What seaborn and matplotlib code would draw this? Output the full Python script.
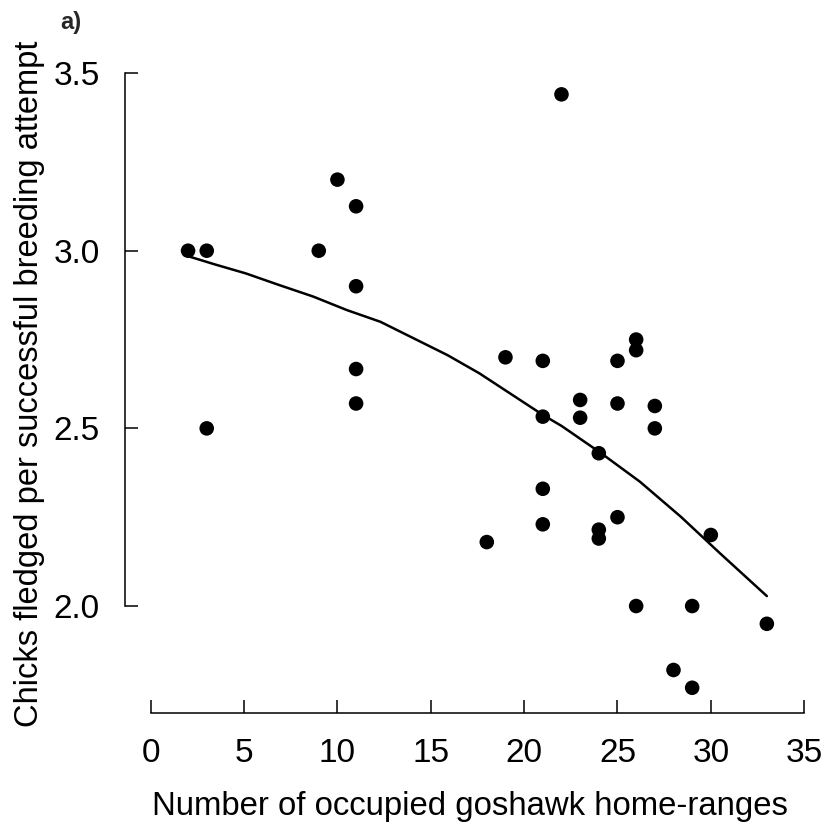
import matplotlib
matplotlib.use("Agg")
import matplotlib.pyplot as plt
import seaborn as sns
import pandas as pd

# occupied goshawk home-ranges vs chicks fledged per successful attempt
home_ranges = [2, 3, 3, 9, 10, 11, 11, 11, 11, 18, 19, 21, 21, 21, 21, 22,
               23, 23, 24, 24, 24, 25, 25, 25, 26, 26, 26, 27, 27, 28, 29, 29,
               30, 33]
chicks = [3.00, 3.00, 2.50, 3.00, 3.20, 3.125, 2.90, 2.667, 2.57, 2.18, 2.70,
          2.69, 2.533, 2.33, 2.23, 3.44, 2.58, 2.53, 2.43, 2.215, 2.19, 2.69,
          2.57, 2.25, 2.75, 2.72, 2.00, 2.563, 2.50, 1.82, 2.00, 1.77, 2.20,
          1.95]

# fitted curve
fit_x = [2.1, 3.4, 5.1, 6.9, 8.7, 10.5, 12.3, 14.1, 15.9, 17.6, 21.0, 22.0,
         24.1, 26.2, 28.4, 30.5, 33.0]
fit_y = [2.983, 2.962, 2.936, 2.903, 2.871, 2.833, 2.800, 2.753, 2.706, 2.655,
         2.538, 2.507, 2.431, 2.350, 2.251, 2.148, 2.028]

x_ticks = [0, 5, 10, 15, 20, 25, 30, 35]
y_ticks = [2.0, 2.5, 3.0, 3.5]

df = pd.DataFrame({"n": home_ranges, "chicks": chicks})
fit = pd.DataFrame({"n": fit_x, "chicks": fit_y})

sns.set_theme(style="ticks")
plt.rcParams["font.family"] = ["Liberation Sans", "DejaVu Sans"]

fig = plt.figure(figsize=(8.3, 8.25), dpi=100)
ax = fig.add_axes([0.1501, 0.1362, 0.8323, 0.7968])

sns.scatterplot(data=df, x="n", y="chicks", color="black", s=110,
                edgecolor="none", ax=ax, zorder=3)
sns.lineplot(data=fit, x="n", y="chicks", sort=False, color="black",
             linewidth=1.8, ax=ax)

ax.set_xlim(-1.4, 35.6)
ax.set_ylim(1.70, 3.55)
ax.set_xticks(x_ticks)
ax.set_yticks(y_ticks)
ax.set_yticklabels([f"{v:.1f}" for v in y_ticks])

sns.despine(ax=ax)
ax.spines["left"].set_bounds(2.0, 3.5)
ax.spines["bottom"].set_bounds(0, 35)
for s in ["left", "bottom"]:
    ax.spines[s].set_linewidth(1.1)
    ax.spines[s].set_color("black")

ax.tick_params(direction="in", length=9.5, width=1.1, color="black",
               labelsize=24, pad=18, labelcolor="black")

ax.set_xlabel("Number of occupied goshawk home-ranges", fontsize=23.7,
              labelpad=16, color="black")
ax.set_ylabel("Chicks fledged per successful breeding attempt", fontsize=23.5,
              labelpad=6, color="black")

fig.text(0.072, 0.973, "a)", fontsize=17, fontweight="bold", va="center",
         ha="left")

fig.savefig("out.png", dpi=100)
